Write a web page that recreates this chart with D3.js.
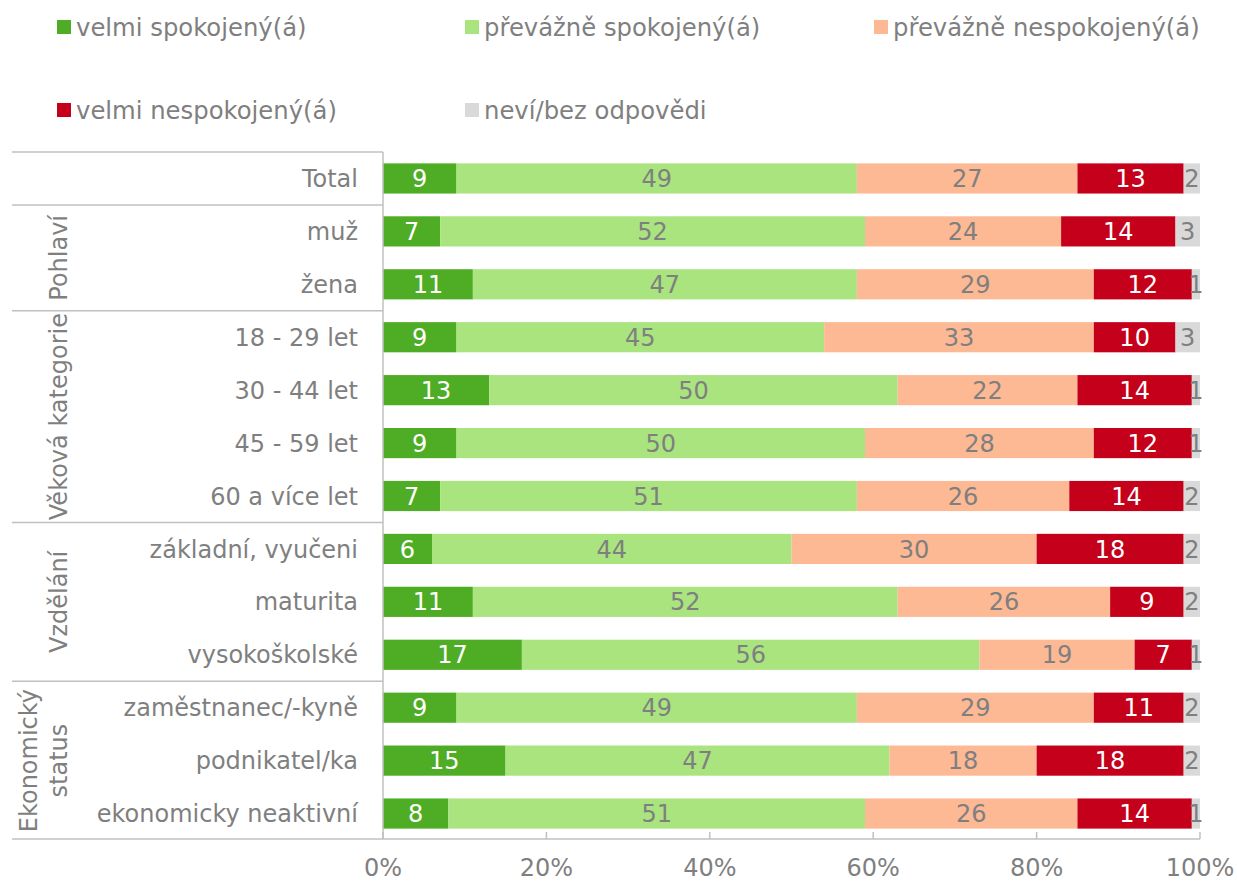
<!DOCTYPE html>
<html>
<head>
<meta charset="utf-8">
<script src="https://cdn.jsdelivr.net/npm/d3@7"></script>
<style>
  body { margin: 0; background: #fff; }
  svg text { font-family: "DejaVu Sans", Verdana, sans-serif; }
</style>
</head>
<body>
<svg id="chart" width="1237" height="882"></svg>
<script>
const categories = [
  "Total", "muž", "žena", "18 - 29 let", "30 - 44 let", "45 - 59 let", "60 a více let",
  "základní, vyučeni", "maturita", "vysokoškolské",
  "zaměstnanec/-kyně", "podnikatel/ka", "ekonomicky neaktivní"
];
const seriesNames = [
  "velmi spokojený(á)", "převážně spokojený(á)", "převážně nespokojený(á)",
  "velmi nespokojený(á)", "neví/bez odpovědi"
];
const velmiSpokojeny = [9, 7, 11, 9, 13, 9, 7, 6, 11, 17, 9, 15, 8];
const prevazneSpokojeny = [49, 52, 47, 45, 50, 50, 51, 44, 52, 56, 49, 47, 51];
const prevazneNespokojeny = [27, 24, 29, 33, 22, 28, 26, 30, 26, 19, 29, 18, 26];
const velmiNespokojeny = [13, 14, 12, 10, 14, 12, 14, 18, 9, 7, 11, 18, 14];
const nevi = [2, 3, 1, 3, 1, 1, 2, 2, 2, 1, 2, 2, 1];
const groups = [
  { name: [], rows: ["Total"] },
  { name: ["Pohlaví"], rows: ["muž", "žena"] },
  { name: ["Věková kategorie"], rows: ["18 - 29 let", "30 - 44 let", "45 - 59 let", "60 a více let"] },
  { name: ["Vzdělání"], rows: ["základní, vyučeni", "maturita", "vysokoškolské"] },
  { name: ["Ekonomický", "status"], rows: ["zaměstnanec/-kyně", "podnikatel/ka", "ekonomicky neaktivní"] }
];
const ticks = [0, 20, 40, 60, 80, 100];

const colors = ["#4ead24", "#a9e47f", "#fdb894", "#c5001a", "#d9d9d9"];
const labelColors = ["#fff", "#7f7f7f", "#7f7f7f", "#fff", "#7f7f7f"];
const textGray = "#7f7f7f";
const lineGray = "#c0c0c0";
const fs = 24;

const svg = d3.select("#chart");

const x = d3.scaleLinear().domain([0, 100]).range([383, 1200]);
const y = d3.scaleBand().domain(categories).range([152, 840])
  .paddingInner(0.43).paddingOuter(0.215);
const gap = (y.step() - y.bandwidth()) / 2;

// stacked data
const table = categories.map((c, i) => {
  const vals = [velmiSpokojeny[i], prevazneSpokojeny[i], prevazneNespokojeny[i], velmiNespokojeny[i], nevi[i]];
  const row = { cat: c };
  vals.forEach((v, k) => (row["s" + k] = v));
  return row;
});
const stack = d3.stack().keys(seriesNames.map((_, k) => "s" + k));
const stacked = stack(table);

// bars
const barLayer = svg.append("g");
stacked.forEach((layer, k) => {
  const g = barLayer.append("g");
  g.selectAll("rect")
    .data(layer)
    .join("rect")
    .attr("x", (d) => x(d[0]))
    .attr("y", (d) => y(d.data.cat))
    .attr("width", (d) => x(d[1]) - x(d[0]))
    .attr("height", y.bandwidth())
    .attr("fill", colors[k]);
  g.selectAll("text")
    .data(layer)
    .join("text")
    .attr("x", (d) => (x(d[0]) + x(d[1])) / 2)
    .attr("y", (d) => y(d.data.cat) + y.bandwidth() / 2)
    .attr("dy", "0.36em")
    .attr("text-anchor", "middle")
    .attr("font-size", fs)
    .attr("fill", labelColors[k])
    .text((d) => d[1] - d[0]);
});

// axis lines
const axisLayer = svg.append("g").attr("stroke", lineGray).attr("stroke-width", 1.5);
const yBottom = y.range()[1] - 1;
axisLayer.append("line").attr("x1", 12).attr("x2", x(100)).attr("y1", yBottom).attr("y2", yBottom);
axisLayer.append("line").attr("x1", x(0)).attr("x2", x(0)).attr("y1", y.range()[0]).attr("y2", yBottom);
axisLayer.selectAll("line.tick")
  .data(ticks)
  .join("line")
  .attr("class", "tick")
  .attr("x1", (d) => x(d)).attr("x2", (d) => x(d))
  .attr("y1", yBottom).attr("y2", yBottom - 7);

svg.append("g").selectAll("text")
  .data(ticks)
  .join("text")
  .attr("x", (d) => x(d))
  .attr("y", 867)
  .attr("dy", "0.36em")
  .attr("text-anchor", "middle")
  .attr("font-size", fs)
  .attr("fill", textGray)
  .text((d) => d + "%");

// category labels
svg.append("g").selectAll("text")
  .data(categories)
  .join("text")
  .attr("x", 358)
  .attr("y", (d) => y(d) + y.bandwidth() / 2)
  .attr("dy", "0.36em")
  .attr("text-anchor", "end")
  .attr("font-size", fs)
  .attr("fill", textGray)
  .text((d) => d);

// group separators and labels
const groupLayer = svg.append("g");
groups.forEach((grp) => {
  const top = y(grp.rows[0]) - gap;
  const bottom = y(grp.rows[grp.rows.length - 1]) + y.bandwidth() + gap;
  groupLayer.append("line")
    .attr("x1", 12).attr("x2", x(0))
    .attr("y1", top).attr("y2", top)
    .attr("stroke", lineGray).attr("stroke-width", 1.5);
  const mid = (top + bottom) / 2;
  const n = grp.name.length;
  grp.name.forEach((t, i) => {
    const cx = 58 - (n - 1 - i) * 30;
    groupLayer.append("text")
      .attr("transform", `translate(${cx},${mid}) rotate(-90)`)
      .attr("dy", "0.36em")
      .attr("text-anchor", "middle")
      .attr("font-size", fs)
      .attr("fill", textGray)
      .text(t);
  });
});

// legend
const legendPos = [[57, 27], [465, 27], [874, 27], [57, 110], [465, 110]];
const legend = svg.append("g");
seriesNames.forEach((name, k) => {
  const [lx, ly] = legendPos[k];
  legend.append("rect")
    .attr("x", lx).attr("y", ly - 7)
    .attr("width", 14).attr("height", 14)
    .attr("fill", colors[k]);
  legend.append("text")
    .attr("x", lx + 19).attr("y", ly)
    .attr("dy", "0.36em")
    .attr("font-size", 24.3)
    .attr("fill", textGray)
    .text(name);
});
</script>
</body>
</html>
